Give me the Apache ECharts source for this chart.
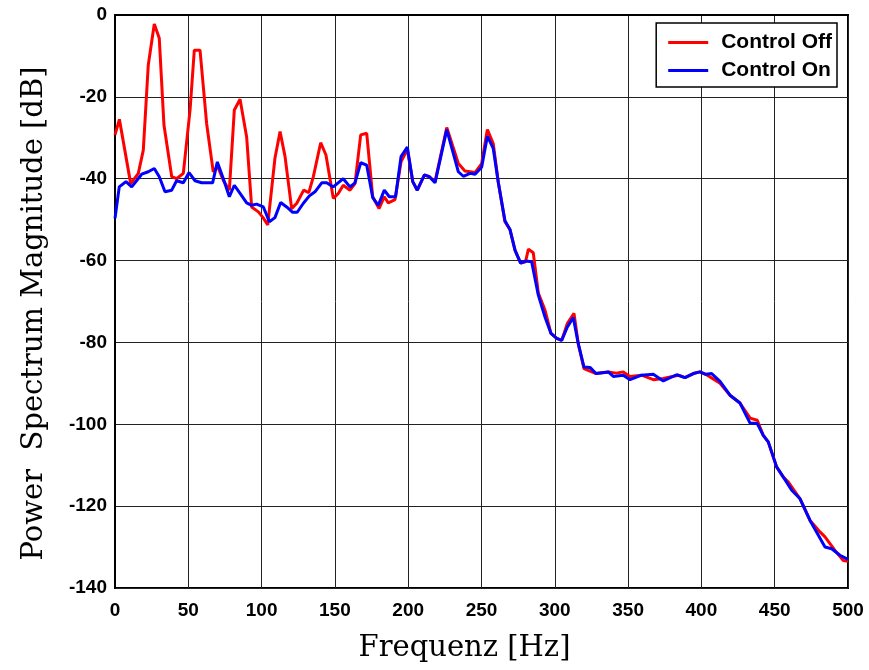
<!DOCTYPE html>
<html>
<head>
<meta charset="utf-8">
<script src="https://cdn.jsdelivr.net/npm/echarts@6/dist/echarts.min.js"></script>
<style>
  html, body { margin: 0; padding: 0; background: #fff; }
  #chart { width: 869px; height: 670px; }
</style>
</head>
<body>
<div id="chart"></div>
<script>
// Control Off (red) - frequenz [Hz] / magnitude [dB]
const freqOff = [0, 3, 10.7, 15.9, 19.3, 22.7, 26.8, 30.2, 33.4, 38.7, 42, 46.6, 51.2, 54.1, 58, 62.5, 67, 70, 74, 78,
    81.4, 85.3, 89.8, 93.2, 97.8, 101, 104.2, 109.1, 112.6, 116, 120.5, 124, 128.7, 132.2, 135.3, 140.3, 143.9, 148.9,
    152.3, 155.7, 160.3, 163.7, 167.6, 171.7, 175.8, 180.1, 183.7, 186.4, 191, 195.1, 199.4, 203.1, 206.2, 211, 214.4,
    218.3, 226.3, 234.2, 238.7, 242.2, 245.6, 250.1, 254, 258, 261.5, 266, 269.4, 272.9, 276.7, 280, 282, 285.3, 288.8,
    293.3, 297.4, 301.3, 304.7, 308.5, 313.1, 316, 319.9, 324, 328.1, 336.5, 342, 346.7, 351.3, 359.2, 367.2, 374,
    384.3, 388.8, 394.5, 399, 404, 412.7, 419.5, 426.3, 433.2, 438.1, 442.2, 445.6, 451.3, 455.9, 459.3, 467.3, 474.1,
    480.9, 484.3, 491.1, 496.8, 500];
const dbOff = [-29.3, -25.5, -41.2, -38.7, -33, -12.2, -2.2, -5.7, -26.9, -39.5, -40, -38.7, -23.2, -8.6, -8.6, -26.5, -38.3, -37, -40.5, -42.8,
    -23.2, -20.6, -29.8, -46.9, -48.1, -49.5, -51.3, -35, -28.5, -34.6, -47.3, -46, -42.8, -43.4, -39.5, -31.2, -34.2, -44.8,
    -43.6, -41.6, -42.8, -41.2, -29.3, -28.9, -44.4, -47.3, -44.4, -45.9, -45.1, -35.9, -32.8, -40.7, -42.8, -39.1, -39.5,
    -40.7, -27.5, -36.3, -38.1, -38.3, -38.5, -36.3, -28, -31.4, -41, -50.5, -52.4, -57.5, -60.6, -60.3, -57.2, -58.1, -68,
    -72.1, -77.8, -79, -79.5, -75.4, -72.9, -80.3, -86.4, -87, -87.6, -87.2, -87.5, -87.2, -88.3, -88, -89.1, -88.8,
    -88, -88.6, -87.6, -87.2, -88, -90, -92.9, -94.8, -98.5, -99, -102.7, -104.3, -110.4, -112.9, -114.1, -118.2, -123.5,
    -126.3, -127.5, -130.8, -133.3, -133.5];

// Control On (blue)
const freqOn = [0, 2.9, 7.5, 11.4, 18.2, 22.7, 26.8, 30.2, 34.1, 38.7, 42, 46.6, 50.5, 54.6, 59.1, 66.6, 69.8, 73.9, 78,
    81.4, 85.3, 89.8, 93.2, 96.6, 101.2, 105.3, 109.1, 113, 117.1, 121.2, 124.3, 128.5, 132.6, 136.4, 141, 144.4, 148.9,
    155.7, 160.3, 163.7, 167.6, 171.7, 175.8, 179.6, 183.7, 187.1, 191.4, 195.1, 199.4, 203.1, 206.2, 211, 214.4, 218.3,
    226.3, 234.2, 237.6, 242.2, 245.6, 250.1, 254, 258, 261.5, 266, 269.4, 272.9, 276.7, 280.4, 284.2, 288.8, 293.3,
    297.4, 301.3, 304.7, 308.5, 312.6, 316, 319.9, 324, 328.1, 336.5, 339.9, 346.7, 351.3, 359.2, 367.2, 374, 383.1,
    388.8, 394.5, 399, 403, 407, 412.7, 419.5, 426.3, 433.2, 438.1, 442.2, 445.6, 451.3, 455.9, 461.6, 467.3, 474.1,
    484.3, 488.9, 494.5, 500];
const dbOn = [-49.7, -42, -40.7, -42, -38.9, -38.3, -37.5, -39.5, -43.2, -42.8, -40.5, -41, -38.5, -40.5, -41, -41, -35.9, -40, -44.4,
    -41.6, -43.6, -45.9, -46.5, -46.2, -46.9, -50.5, -49.5, -45.8, -46.9, -48.2, -48.2, -46, -44.2, -43.2, -41, -41, -42,
    -40, -42, -41, -36.1, -36.7, -44.6, -46.5, -42.8, -44.4, -44.4, -34.6, -32.3, -40.7, -42.8, -39.1, -39.5, -41,
    -28, -38.3, -39.4, -38.7, -38.9, -37.2, -29.6, -32.6, -41, -50.3, -52.4, -57.5, -60.6, -60.1, -60.3, -68.5, -73.8,
    -77.8, -79, -79.5, -76.3, -73.9, -80.3, -86, -86.1, -87.6, -87.2, -88.3, -88, -89.1, -88, -87.8, -89.4, -87.9,
    -88.6, -87.6, -87.2, -87.8, -87.6, -89.5, -92.9, -94.8, -99.7, -99.8, -102.7, -104.3, -110.4, -112.9, -116.1, -118.2, -123.5,
    -130, -130.4, -132, -133];

const seriesNames = ['Control Off', 'Control On'];

const toPairs = (xs, ys) => xs.map((x, i) => [x, ys[i]]);

const chart = echarts.init(document.getElementById('chart'));

const tickFont = { color: '#000', fontFamily: 'Liberation Sans, Arial', fontWeight: 'bold', fontSize: 19 };
const nameFont = { color: '#000', fontFamily: 'DejaVu Serif', fontSize: 29 };

const option = {
    animation: false,
    backgroundColor: '#fff',
    grid: {
        left: 115, right: 21, top: 15, bottom: 82,
        show: true, borderColor: '#000', borderWidth: 2, backgroundColor: 'transparent'
    },
    legend: {
        orient: 'vertical',
        right: 32, top: 23,
        padding: [9, 5, 6, 12],
        itemGap: 7,
        itemWidth: 40,
        itemHeight: 3,
        icon: 'rect',
        backgroundColor: '#fff',
        borderColor: '#000',
        borderWidth: 1.5,
        borderRadius: 0,
        textStyle: {
            color: '#000', fontFamily: 'Liberation Sans, Arial', fontWeight: 'bold', fontSize: 21,
            padding: [0, 0, 0, 8]
        },
        data: seriesNames
    },
    xAxis: {
        type: 'value',
        min: 0, max: 500, interval: 50,
        name: 'Frequenz [Hz]',
        nameLocation: 'middle',
        nameGap: 46,
        nameTextStyle: Object.assign({ padding: [0, 34, 0, 0] }, nameFont),
        axisLine: { show: true, lineStyle: { color: '#000', width: 2 } },
        axisTick: { show: false },
        axisLabel: Object.assign({ margin: 13 }, tickFont),
        splitLine: { show: true, lineStyle: { color: '#222', width: 1 } }
    },
    yAxis: {
        type: 'value',
        min: -140, max: 0, interval: 20,
        name: 'Power  Spectrum Magnitude [dB]',
        nameLocation: 'middle',
        nameGap: 66,
        nameTextStyle: Object.assign({ padding: [0, 24, 0, 0] }, nameFont),
        axisLine: { show: true, lineStyle: { color: '#000', width: 2 } },
        axisTick: { show: false },
        axisLabel: Object.assign({ margin: 8, padding: [6, 0, 0, 0] }, tickFont),
        splitLine: { show: true, lineStyle: { color: '#222', width: 1 } }
    },
    series: [
        {
            name: seriesNames[0],
            type: 'line',
            data: toPairs(freqOff, dbOff),
            symbol: 'none',
            color: '#ff0000',
            lineStyle: { color: '#ff0000', width: 3 }
        },
        {
            name: seriesNames[1],
            type: 'line',
            data: toPairs(freqOn, dbOn),
            symbol: 'none',
            color: '#0000ff',
            lineStyle: { color: '#0000ff', width: 3 }
        }
    ]
};

chart.setOption(option);
</script>
</body>
</html>
